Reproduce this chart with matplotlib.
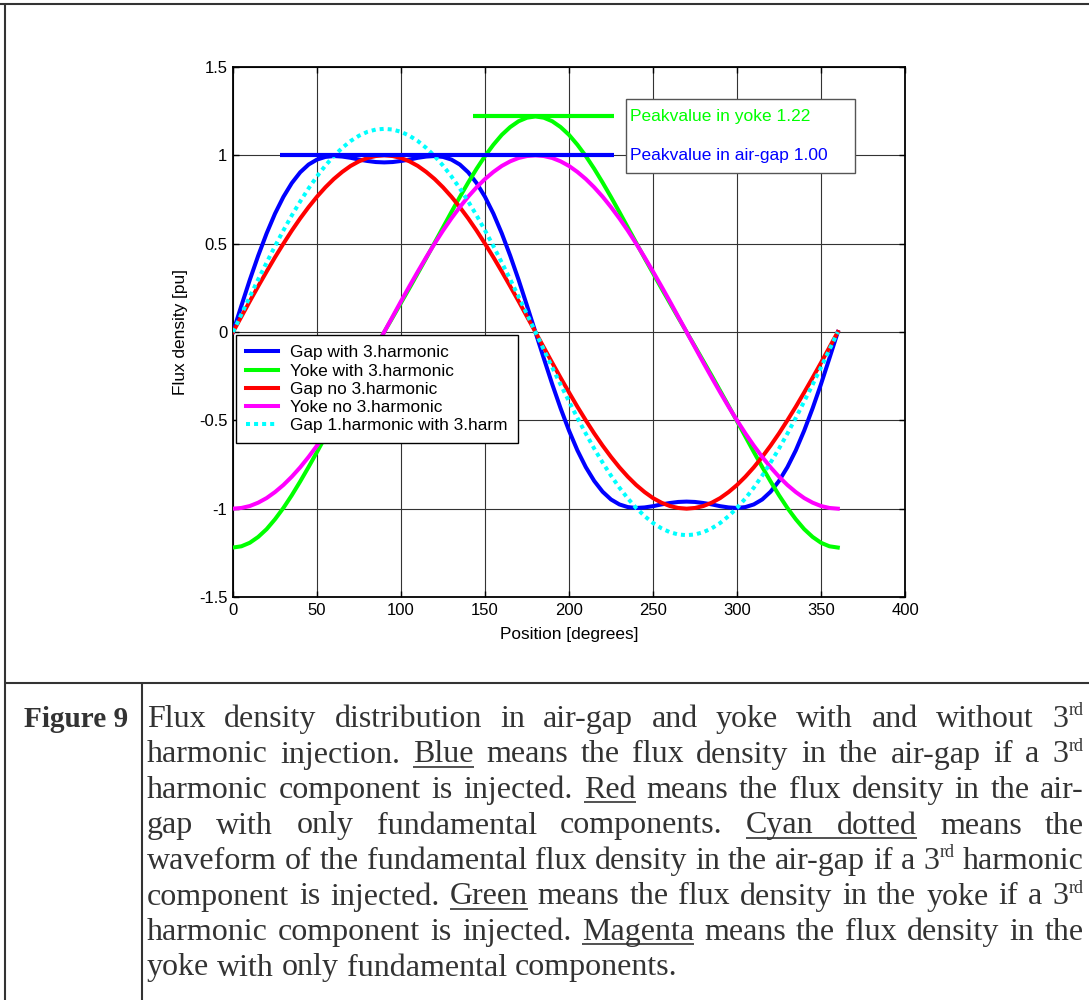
import matplotlib
matplotlib.use('Agg')
import matplotlib.pyplot as plt
from matplotlib.lines import Line2D
from matplotlib.patches import Rectangle

# ---------------- data ----------------
position_deg = [0, 5, 10, 15, 20, 25, 30, 35, 40, 45, 50, 55, 60, 65, 70, 75, 80, 85, 90,
                95, 100, 105, 110, 115, 120, 125, 130, 135, 140, 145, 150, 155, 160, 165, 170, 175, 180,
                185, 190, 195, 200, 205, 210, 215, 220, 225, 230, 235, 240, 245, 250, 255, 260, 265, 270,
                275, 280, 285, 290, 295, 300, 305, 310, 315, 320, 325, 330, 335, 340, 345, 350, 355, 360]

gap_with_3rd = [0.000, 0.149, 0.295, 0.432, 0.558, 0.670, 0.765, 0.843, 0.904, 0.948, 0.976, 0.991, 0.996, 0.993, 0.986, 0.976, 0.968, 0.962, 0.960,
                0.962, 0.968, 0.976, 0.986, 0.993, 0.996, 0.991, 0.976, 0.948, 0.904, 0.843, 0.765, 0.670, 0.558, 0.432, 0.295, 0.149, 0.000,
                -0.149, -0.295, -0.432, -0.558, -0.670, -0.765, -0.843, -0.904, -0.948, -0.976, -0.991, -0.996, -0.993, -0.986, -0.976, -0.968, -0.962, -0.960,
                -0.962, -0.968, -0.976, -0.986, -0.993, -0.996, -0.991, -0.976, -0.948, -0.904, -0.843, -0.765, -0.670, -0.558, -0.432, -0.295, -0.149, 0.000]

yoke_with_3rd = [-1.220, -1.213, -1.193, -1.160, -1.116, -1.060, -0.996, -0.924, -0.846, -0.764, -0.679, -0.592, -0.505, -0.418, -0.333, -0.248, -0.165, -0.082, 0.000,
                 0.082, 0.165, 0.248, 0.333, 0.418, 0.505, 0.592, 0.679, 0.764, 0.846, 0.924, 0.996, 1.060, 1.116, 1.160, 1.193, 1.213, 1.220,
                 1.213, 1.193, 1.160, 1.116, 1.060, 0.996, 0.924, 0.846, 0.764, 0.679, 0.592, 0.505, 0.418, 0.333, 0.248, 0.165, 0.082, 0.000,
                 -0.082, -0.165, -0.248, -0.333, -0.418, -0.505, -0.592, -0.679, -0.764, -0.846, -0.924, -0.996, -1.060, -1.116, -1.160, -1.193, -1.213, -1.220]

gap_no_3rd = [0.000, 0.087, 0.174, 0.259, 0.342, 0.423, 0.500, 0.574, 0.643, 0.707, 0.766, 0.819, 0.866, 0.906, 0.940, 0.966, 0.985, 0.996, 1.000,
              0.996, 0.985, 0.966, 0.940, 0.906, 0.866, 0.819, 0.766, 0.707, 0.643, 0.574, 0.500, 0.423, 0.342, 0.259, 0.174, 0.087, 0.000,
              -0.087, -0.174, -0.259, -0.342, -0.423, -0.500, -0.574, -0.643, -0.707, -0.766, -0.819, -0.866, -0.906, -0.940, -0.966, -0.985, -0.996, -1.000,
              -0.996, -0.985, -0.966, -0.940, -0.906, -0.866, -0.819, -0.766, -0.707, -0.643, -0.574, -0.500, -0.423, -0.342, -0.259, -0.174, -0.087, 0.000]

yoke_no_3rd = [-1.000, -0.996, -0.985, -0.966, -0.940, -0.906, -0.866, -0.819, -0.766, -0.707, -0.643, -0.574, -0.500, -0.423, -0.342, -0.259, -0.174, -0.087, 0.000,
               0.087, 0.174, 0.259, 0.342, 0.423, 0.500, 0.574, 0.643, 0.707, 0.766, 0.819, 0.866, 0.906, 0.940, 0.966, 0.985, 0.996, 1.000,
               0.996, 0.985, 0.966, 0.940, 0.906, 0.866, 0.819, 0.766, 0.707, 0.643, 0.574, 0.500, 0.423, 0.342, 0.259, 0.174, 0.087, 0.000,
               -0.087, -0.174, -0.259, -0.342, -0.423, -0.500, -0.574, -0.643, -0.707, -0.766, -0.819, -0.866, -0.906, -0.940, -0.966, -0.985, -0.996, -1.000]

gap_fundamental = [0.000, 0.100, 0.200, 0.298, 0.393, 0.486, 0.575, 0.660, 0.739, 0.813, 0.881, 0.942, 0.996, 1.042, 1.081, 1.111, 1.133, 1.146, 1.150,
                   1.146, 1.133, 1.111, 1.081, 1.042, 0.996, 0.942, 0.881, 0.813, 0.739, 0.660, 0.575, 0.486, 0.393, 0.298, 0.200, 0.100, 0.000,
                   -0.100, -0.200, -0.298, -0.393, -0.486, -0.575, -0.660, -0.739, -0.813, -0.881, -0.942, -0.996, -1.042, -1.081, -1.111, -1.133, -1.146, -1.150,
                   -1.146, -1.133, -1.111, -1.081, -1.042, -0.996, -0.942, -0.881, -0.813, -0.739, -0.660, -0.575, -0.486, -0.393, -0.298, -0.200, -0.100, 0.000]

series_labels = ['Gap with 3.harmonic', 'Yoke with 3.harmonic', 'Gap no 3.harmonic',
                 'Yoke no 3.harmonic', 'Gap 1.harmonic with 3.harm']

peak_yoke = 1.22
peak_gap = 1.00
peak_yoke_span = [143, 227]
peak_gap_span = [28, 227]
peak_texts = ['Peakvalue in yoke 1.22', 'Peakvalue in air-gap 1.00']

x_ticks = [0, 50, 100, 150, 200, 250, 300, 350, 400]
y_ticks = [-1.5, -1, -0.5, 0, 0.5, 1, 1.5]
y_tick_labels = ['-1.5', '-1', '-0.5', '0', '0.5', '1', '1.5']
x_label = 'Position [degrees]'
y_label = 'Flux density [pu]'

caption_label = 'Figure 9'
caption_lines = [
    'Flux density distribution in air-gap and yoke with and without 3^rd',
    'harmonic injection. _Blue_ means the flux density in the air-gap if a 3^rd',
    'harmonic component is injected. _Red_ means the flux density in the air-',
    'gap with only fundamental components. _Cyan dotted_ means the',
    'waveform of the fundamental flux density in the air-gap if a 3^rd harmonic',
    'component is injected. _Green_ means the flux density in the yoke if a 3^rd',
    'harmonic component is injected. _Magenta_ means the flux density in the',
    'yoke with only fundamental components.',
]

# ---------------- styling ----------------
BLUE, GREEN, RED, MAGENTA, CYAN = '#0000ff', '#00ff00', '#ff0000', '#ff00ff', '#00ffff'
SANS = ['Liberation Sans', 'DejaVu Sans']
SERIF = ['Liberation Serif', 'DejaVu Serif']
TEXT_C = '#333333'

W, H = 1089, 1000
fig = plt.figure(figsize=(W / 100, H / 100), dpi=100)
fig.patch.set_facecolor('white')


def fx(px):
    return px / W


def fy(py):
    return 1 - py / H


plt.rcParams['font.family'] = SANS

ax = fig.add_axes([fx(233), fy(597), (905 - 233) / W, (597 - 67) / H])
lw = 2.9
l1, = ax.plot(position_deg, gap_with_3rd, color=BLUE, lw=lw, label=series_labels[0], zorder=3)
l2, = ax.plot(position_deg, yoke_with_3rd, color=GREEN, lw=lw, label=series_labels[1], zorder=3)
l3, = ax.plot(position_deg, gap_no_3rd, color=RED, lw=lw, label=series_labels[2], zorder=3)
l4, = ax.plot(position_deg, yoke_no_3rd, color=MAGENTA, lw=lw, label=series_labels[3], zorder=3)
l5, = ax.plot(position_deg, gap_fundamental, color=CYAN, lw=lw, linestyle=(0, (1.0, 1.0)),
              dash_capstyle='butt', label=series_labels[4], zorder=3)

ax.plot(peak_yoke_span, [peak_yoke, peak_yoke], color=GREEN, lw=3.0, solid_capstyle='butt', zorder=4)
ax.plot(peak_gap_span, [peak_gap, peak_gap], color=BLUE, lw=3.0, solid_capstyle='butt', zorder=4)

# annotation box
ax.add_patch(Rectangle((233.7, 0.9015), 136.5, 0.4155, facecolor='white', edgecolor='#555555',
                       lw=1.0, zorder=5))
ax.text(236.5, peak_yoke, peak_texts[0], color=GREEN, fontsize=12.5, va='center', ha='left',
        zorder=6, family=SANS)
ax.text(236.5, peak_gap, peak_texts[1], color=BLUE, fontsize=12.5, va='center', ha='left',
        zorder=6, family=SANS)

ax.set_xlim(0, 400)
ax.set_ylim(-1.5, 1.5)
ax.set_xticks(x_ticks)
ax.set_yticks(y_ticks)
ax.set_yticklabels(y_tick_labels)
ax.grid(True, color='#333333', lw=0.8)
ax.set_axisbelow(True)
ax.tick_params(direction='in', length=4, top=True, right=True, labelsize=12, pad=4,
               colors='black', width=1)
for s in ax.spines.values():
    s.set_linewidth(1.3)
    s.set_color('black')

ax.set_xlabel(x_label, fontsize=12.4)
ax.set_ylabel(y_label, fontsize=12.4)
ax.xaxis.set_label_coords(0.5, (597 - 634) / 530)
ax.xaxis.label.set_va('center')
ax.yaxis.set_label_coords((180 - 233) / 672, 0.5)
ax.yaxis.label.set_va('center')

leg = ax.legend(handles=[l1, l2, l3, l4, l5], loc='upper left',
                bbox_to_anchor=((236 - 233) / 672, (597 - 335) / 530), borderaxespad=0,
                fontsize=12.4, handlelength=1.86, handletextpad=0.7, labelspacing=0.18,
                borderpad=0.6, fancybox=False, framealpha=1, edgecolor='black')
leg.get_frame().set_linewidth(1.0)
leg.set_zorder(7)

# ---------------- table frame ----------------
def fline(x0, y0, x1, y1, lw_=1.5):
    fig.add_artist(Line2D([fx(x0), fx(x1)], [fy(y0), fy(y1)], color=TEXT_C, lw=lw_,
                          transform=fig.transFigure, solid_capstyle='butt'))


fline(0, 4, W, 4)
fline(5, 4, 5, H)
fline(5, 683, W, 683)
fline(142, 683, 142, H)

# ---------------- caption (justified) ----------------
renderer = fig.canvas.get_renderer()


def text_w(s, size, weight='normal'):
    t = fig.text(0, 0, s, fontsize=size, family=SERIF, weight=weight)
    w = t.get_window_extent(renderer).width
    t.remove()
    return w


def parse(line):
    words = []
    for tok in line.split():
        ul_s = tok.startswith('_')
        ul_e = tok.endswith('_')
        w = tok.strip('_')
        if '^' in w:
            base, sup = w.split('^')
        else:
            base, sup = w, ''
        words.append((base, sup, ul_s, ul_e))
    return words


ref_size = 20.0
left_px, right_px = 147, 1084
last_words = parse(caption_lines[-1])
sp_ref = text_w('a a', ref_size) - text_w('aa', ref_size)
nat = sum(text_w(b, ref_size) for b, _, _, _ in last_words) + sp_ref * (len(last_words) - 1)
fs_fit = ref_size * (668 - left_px) / nat
fs = fs_fit * 1.02
sup_fs = fs * 0.56
space_px = text_w('a a', fs) - text_w('aa', fs)
px_per_pt = 100 / 72.0

base0 = 727
step = 35.5

fig.text(fx(24), fy(base0), caption_label, fontsize=fs_fit * 0.93, family=SERIF, weight='bold',
         color=TEXT_C, va='baseline', ha='left')

for i, line in enumerate(caption_lines):
    words = parse(line)
    widths = []
    for b, s, _, _ in words:
        w = text_w(b, fs)
        ws = text_w(s, sup_fs) + 1 if s else 0
        widths.append((w, ws))
    total = sum(a + c for a, c in widths)
    if i < len(caption_lines) - 1 and len(words) > 1:
        gap = (right_px - left_px - total) / (len(words) - 1)
    else:
        gap = space_px
    gap = max(gap, space_px * 0.6)
    y = base0 + i * step
    x = left_px
    ul_x0 = None
    for (b, s, ul_s, ul_e), (w, ws) in zip(words, widths):
        if ul_s:
            ul_x0 = x
        fig.text(fx(x), fy(y), b, fontsize=fs, family=SERIF, color=TEXT_C,
                 va='baseline', ha='left')
        if s:
            fig.text(fx(x + w + 0.5), fy(y - fs * px_per_pt * 0.37), s, fontsize=sup_fs,
                     family=SERIF, color=TEXT_C, va='baseline', ha='left')
        if ul_e and ul_x0 is not None:
            fline(ul_x0, y + 4, x + w + ws, y + 4, lw_=1.2)
            ul_x0 = None
        x += w + ws + gap

fig.savefig('out.png', dpi=100, facecolor='white')
